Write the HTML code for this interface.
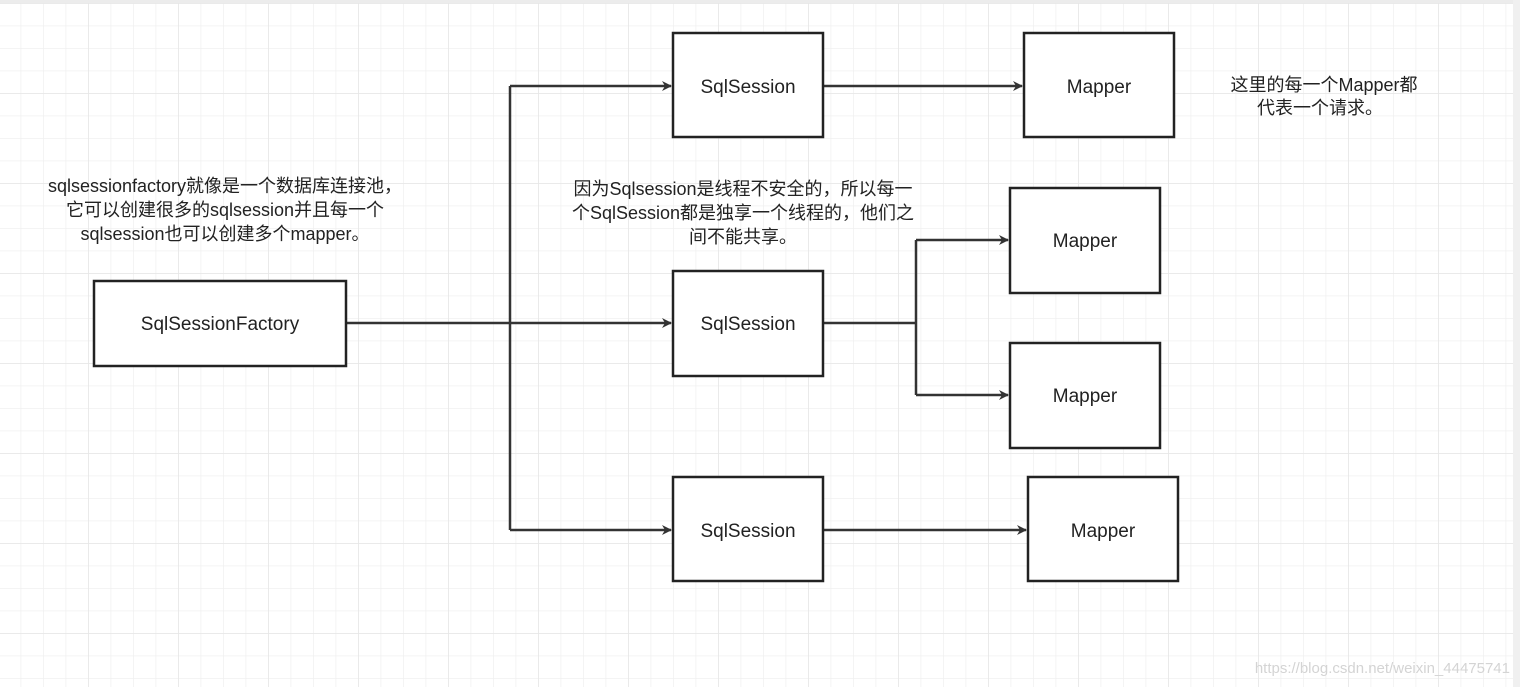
<!DOCTYPE html>
<html><head><meta charset="utf-8"><style>
html,body{margin:0;padding:0;background:#fff}
svg{display:block}
text{font-family:"Liberation Sans","Noto Sans CJK SC",sans-serif;fill:#222}
</style></head><body>
<svg width="1520" height="687" viewBox="0 0 1520 687" xmlns="http://www.w3.org/2000/svg">
<defs>
<pattern id="g" x="20.5" y="3" width="22.5" height="22.5" patternUnits="userSpaceOnUse">
<path d="M0 0H22.5M0 0V22.5" stroke="#f0f0f0" stroke-width="1.5" fill="none"/>
</pattern>
<pattern id="G" x="88" y="3" width="90" height="90" patternUnits="userSpaceOnUse">
<path d="M0 0H90M0 0V90" stroke="#e6e6e6" stroke-width="1.5" fill="none"/>
</pattern>
<marker id="a" markerWidth="10" markerHeight="10" refX="9" refY="5" orient="auto" markerUnits="userSpaceOnUse">
<path d="M0 0L10 5L0 10L3 5Z" fill="#333"/>
</marker>
</defs>
<rect width="1520" height="687" fill="url(#g)"/>
<rect width="1520" height="687" fill="url(#G)"/>
<rect width="1520" height="3" fill="#ececec"/>
<rect x="1513" width="7" height="687" fill="#f0f0f0"/>
<g stroke="#333" stroke-width="2.5" fill="none">
<path d="M346 323H510"/>
<path d="M510 86V530"/>
<path d="M510 86H671" marker-end="url(#a)"/>
<path d="M510 323H671" marker-end="url(#a)"/>
<path d="M510 530H671" marker-end="url(#a)"/>
<path d="M823 86H1022" marker-end="url(#a)"/>
<path d="M823 323H916"/>
<path d="M916 240V395"/>
<path d="M916 240H1008" marker-end="url(#a)"/>
<path d="M916 395H1008" marker-end="url(#a)"/>
<path d="M823 530H1026" marker-end="url(#a)"/>
</g>
<g stroke="#222" stroke-width="2.5" fill="#fff">
<rect x="94" y="281" width="252" height="85"/>
<rect x="673" y="33" width="150" height="104"/>
<rect x="673" y="271" width="150" height="105"/>
<rect x="673" y="477" width="150" height="104"/>
<rect x="1024" y="33" width="150" height="104"/>
<rect x="1010" y="188" width="150" height="105"/>
<rect x="1010" y="343" width="150" height="105"/>
<rect x="1028" y="477" width="150" height="104"/>
</g>
<g font-size="19" text-anchor="middle">
<text x="220" y="330">SqlSessionFactory</text>
<text x="748" y="93">SqlSession</text>
<text x="748" y="330">SqlSession</text>
<text x="748" y="537">SqlSession</text>
<text x="1099" y="93">Mapper</text>
<text x="1085" y="247">Mapper</text>
<text x="1085" y="402">Mapper</text>
<text x="1103" y="537">Mapper</text>
</g>
<g font-size="18" text-anchor="middle">
<text x="225" y="192">sqlsessionfactory就像是一个数据库连接池，</text>
<text x="225" y="216">它可以创建很多的sqlsession并且每一个</text>
<text x="225" y="240">sqlsession也可以创建多个mapper。</text>
<text x="743" y="195">因为Sqlsession是线程不安全的，所以每一</text>
<text x="743" y="219">个SqlSession都是独享一个线程的，他们之</text>
<text x="743" y="243">间不能共享。</text>
<text x="1324" y="91">这里的每一个Mapper都</text>
<text x="1320" y="114">代表一个请求。</text>
</g>
<text x="1510" y="673" font-size="15" text-anchor="end" style="fill:#d4d4d4">https://blog.csdn.net/weixin_44475741</text>
</svg>
</body></html>
